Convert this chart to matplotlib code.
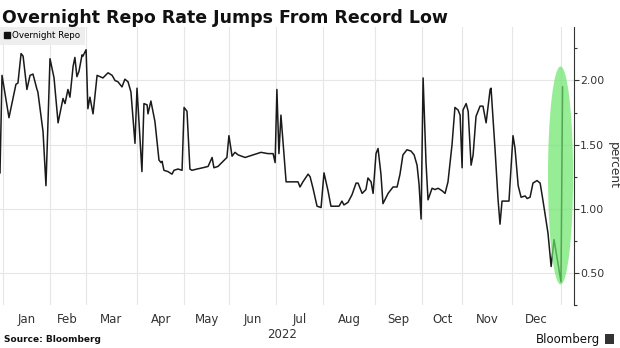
import matplotlib
matplotlib.use('Agg')
import matplotlib.pyplot as plt
from matplotlib.patches import Ellipse, Rectangle
from matplotlib.lines import Line2D
import matplotlib.transforms as mtransforms

# interbank trading days per month, 2022
months = ['Jan', 'Feb', 'Mar', 'Apr', 'May', 'Jun',
          'Jul', 'Aug', 'Sep', 'Oct', 'Nov', 'Dec']
month_days = [21, 16, 23, 21, 20, 21, 21, 23, 21, 18, 22, 22]
year_label = '2022'

# overnight repo rate (percent), x = trading day since start of 2022
day = [-1.2, -0.3, 1.0, 2.8, 4.6, 5.9, 6.8, 8.2, 9.1, 10.8, 12.2, 13.5, 15.3, 15.7,
       18.0, 19.3, 21.1, 22.9, 24.7, 26.9, 27.8, 29.1, 30.0, 31.4, 32.2, 33.1, 34.0,
       35.4, 35.8, 37.2, 38.0, 38.9, 40.3, 42.1, 43.4, 44.7, 47.0, 48.8, 50.1, 51.4,
       53.2, 54.5, 55.9, 57.2, 58.1, 59.0, 59.9, 62.1, 63.0, 64.4, 64.8, 66.1, 67.9,
       69.7, 70.6, 71.1, 71.9, 73.7, 75.5, 76.4, 78.2, 80.0, 80.9, 82.2, 83.5, 84.4,
       86.7, 89.3, 91.6, 93.4, 94.2, 96.0, 98.3, 100.0, 100.9, 102.3, 103.6, 105.0,
       108.1, 111.6, 115.2, 118.3, 120.6, 121.5, 122.3, 123.2, 124.1, 126.4, 128.1,
       130.4, 131.7, 132.6, 133.9, 136.2, 137.1, 138.4, 140.2, 142.0, 143.3, 145.1,
       146.4, 148.2, 150.0, 151.3, 152.2, 154.0, 155.8, 157.6, 158.5, 160.3, 162.0,
       162.9, 164.3, 165.2, 166.5, 167.4, 168.7, 169.6, 171.9, 174.1, 175.9, 177.2,
       178.5, 180.3, 182.1, 183.5, 184.8, 185.7, 186.6, 187.5, 188.8, 189.7, 191.5,
       192.8, 194.2, 196.0, 197.3, 198.6, 200.4, 201.7, 203.1, 204.0, 204.9, 205.3,
       206.7, 207.6, 208.9, 209.8, 211.1, 212.9, 214.2, 215.6, 217.4, 217.8, 219.6,
       220.9, 221.8, 222.7, 224.1, 225.8, 227.6, 228.5, 229.9, 231.2, 233.0, 233.9,
       235.2, 236.5, 238.3, 239.7, 241.0, 243.2, 244.6, 245.9, 249.0, 249.7]
rate = [1.28, 2.04, 1.90, 1.71, 1.86, 1.97, 1.98, 2.21, 2.19, 1.93, 2.04, 2.05, 1.93, 1.91,
        1.60, 1.18, 2.17, 2.02, 1.67, 1.86, 1.82, 1.93, 1.87, 2.11, 2.18, 2.03, 2.07,
        2.20, 2.19, 2.24, 1.78, 1.87, 1.74, 2.04, 2.03, 2.02, 2.06, 2.04, 2.00, 1.99,
        1.95, 2.01, 1.99, 1.91, 1.71, 1.51, 1.94, 1.29, 1.82, 1.81, 1.74, 1.84, 1.68,
        1.38, 1.36, 1.37, 1.30, 1.29, 1.27, 1.30, 1.31, 1.30, 1.79, 1.76, 1.31, 1.30,
        1.31, 1.32, 1.33, 1.40, 1.32, 1.33, 1.37, 1.40, 1.57, 1.41, 1.44, 1.42,
        1.40, 1.42, 1.44, 1.43, 1.43, 1.36, 1.93, 1.43, 1.73, 1.21, 1.21,
        1.21, 1.21, 1.17, 1.21, 1.27, 1.25, 1.16, 1.02, 1.01, 1.28, 1.14,
        1.02, 1.02, 1.02, 1.06, 1.03, 1.05, 1.11, 1.20, 1.20, 1.12, 1.15,
        1.24, 1.21, 1.12, 1.43, 1.47, 1.27, 1.04, 1.12, 1.17, 1.17, 1.27,
        1.42, 1.46, 1.45, 1.42, 1.34, 1.19, 0.92, 2.02, 1.36, 1.07, 1.16,
        1.15, 1.16, 1.14, 1.12, 1.21, 1.50, 1.79, 1.77, 1.73, 1.32, 1.77,
        1.82, 1.76, 1.34, 1.42, 1.72, 1.80, 1.80, 1.67, 1.93, 1.94, 1.46,
        1.08, 0.88, 1.06, 1.06, 1.06, 1.57, 1.47, 1.18, 1.09, 1.10, 1.08,
        1.09, 1.20, 1.22, 1.20, 1.06, 0.81, 0.55, 0.76, 0.43, 1.95]

# highlight around the jump
hl_center = (248.8, 1.26)
hl_width = 11.2
hl_height = 1.70

bounds = [0]
for n in month_days:
    bounds.append(bounds[-1] + n)
mids = [(a + b) / 2 for a, b in zip(bounds[:-1], bounds[1:])]

fig = plt.figure(figsize=(6.2, 3.48), dpi=100)
ax = fig.add_axes([0, 43 / 348, 574 / 620, 278 / 348])

ax.plot(day, rate, color='#1a1a1a', lw=1.1, zorder=3)
ax.add_patch(Ellipse(hl_center, hl_width, hl_height, facecolor='#6ae66a',
                     edgecolor='none', alpha=0.7, zorder=4))

ax.set_xlim(-1.2, 254.8)
ax.set_ylim(0.25, 2.417)

for s in ['top', 'left', 'bottom']:
    ax.spines[s].set_visible(False)
ax.spines['right'].set_color('#333333')
ax.spines['right'].set_linewidth(0.8)

ax.set_xticks(mids)
ax.set_xticklabels(months)
ax.set_xticks(bounds, minor=True)
ax.tick_params(axis='x', which='both', length=0, labelsize=8.5,
               labelcolor='#333333', pad=6)
ax.grid(axis='x', which='minor', color='#e6e6e6', lw=0.8)

ax.yaxis.tick_right()
ax.yaxis.set_label_position('right')
ax.set_yticks([0.5, 1.0, 1.5, 2.0])
ax.set_yticklabels(['0.50', '1.00', '1.50', '2.00'])
ax.set_yticks([0.25, 0.75, 1.25, 1.75, 2.25], minor=True)
ax.tick_params(axis='y', which='major', length=3.5, width=0.8, color='#333333',
               labelsize=7.8, labelcolor='#333333', pad=1)
ax.tick_params(axis='y', which='minor', length=2.5, width=0.8, color='#333333')
ax.grid(axis='y', which='major', color='#e6e6e6', lw=0.8)
ax.set_ylabel('percent', rotation=270, fontsize=8.8, color='#333333', labelpad=11)

trans = mtransforms.blended_transform_factory(ax.transData, fig.transFigure)
ax.text((bounds[0] + bounds[-1]) / 2, 1 - 334 / 348, year_label, transform=trans,
        ha='center', va='center', fontsize=8.5, color='#333333')

leg_handle = Line2D([], [], marker='s', color='#111111', linestyle='none', markersize=4)
leg = ax.legend([leg_handle], ['Overnight Repo'], loc='upper left',
                bbox_to_anchor=(0, 1), borderaxespad=0, fancybox=False,
                fontsize=6.3, handlelength=0.6, handletextpad=0.3,
                borderpad=0.5, framealpha=1)
leg.get_frame().set_facecolor('#eeeeee')
leg.get_frame().set_edgecolor('none')
leg.set_zorder(5)

fig.text(0.004, 1 - 23 / 348, 'Overnight Repo Rate Jumps From Record Low',
         fontsize=12.5, fontweight='bold', color='#111111', va='baseline')
fig.text(0.006, 1 - 340 / 348, 'Source: Bloomberg', fontsize=6.5,
         fontweight='bold', color='#111111', va='center')
fig.text(600 / 620, 1 - 339 / 348, 'Bloomberg', fontsize=8.5,
         color='#111111', va='center', ha='right')
fig.patches.append(Rectangle((605 / 620, 1 - 344 / 348), 9 / 620, 10 / 348,
                             transform=fig.transFigure, facecolor='#333333',
                             edgecolor='none'))

fig.savefig('out.png', dpi=100)
